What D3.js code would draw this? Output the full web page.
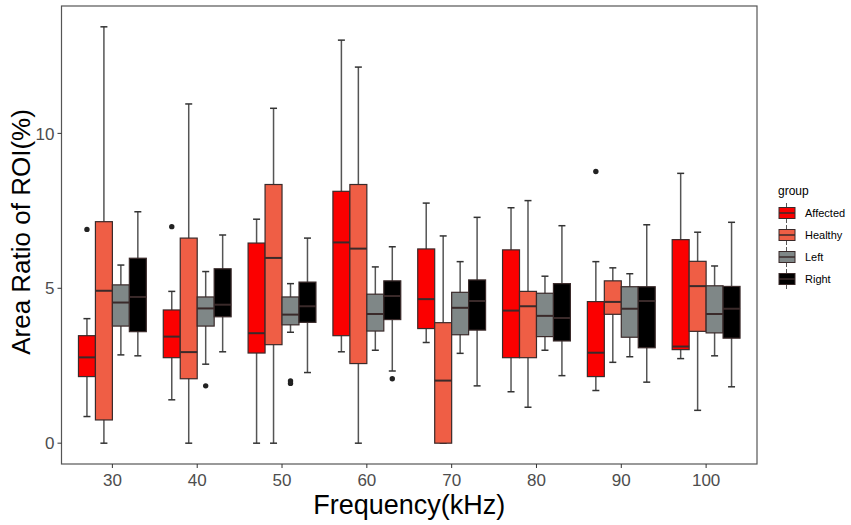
<!DOCTYPE html>
<html>
<head>
<meta charset="utf-8">
<script src="https://cdn.jsdelivr.net/npm/d3@7"></script>
<style>
  body { margin: 0; background: #fff; }
  text { font-family: Arial, "Liberation Sans", sans-serif; }
</style>
</head>
<body>
<svg id="chart" width="851" height="525"></svg>
<script>
// categories on x
const frequencies = ['30', '40', '50', '60', '70', '80', '90', '100'];
const groups = ['Affected', 'Healthy', 'Left', 'Right'];
const groupColors = ['#fb0000', '#ef5e45', '#7f8787', '#000000'];
const yTicks = [0, 5, 10];

// five-number summaries per frequency: [lower whisker, Q1, median, Q3, upper whisker]
const affected = [
  [0.86, 2.15, 2.77, 3.47, 4.02],
  [1.40, 2.76, 3.44, 4.30, 4.90],
  [0.00, 2.91, 3.55, 6.46, 7.23],
  [2.95, 3.47, 6.48, 8.13, 13.01],
  [3.25, 3.70, 4.65, 6.27, 7.75],
  [1.66, 2.76, 4.28, 6.24, 7.60],
  [1.70, 2.15, 2.92, 4.57, 5.86],
  [2.73, 3.02, 3.12, 6.57, 8.71]
];
const healthy = [
  [0.00, 0.75, 4.92, 7.15, 13.44],
  [0.00, 2.08, 2.94, 6.62, 10.95],
  [0.00, 3.18, 5.98, 8.35, 10.81],
  [0.00, 2.57, 6.28, 8.35, 12.14],
  [0.00, 0.00, 2.02, 3.89, 6.69],
  [1.16, 2.76, 4.42, 4.90, 7.83],
  [2.61, 4.16, 4.56, 5.24, 5.66],
  [1.06, 3.61, 5.07, 5.87, 6.81]
];
const left = [
  [2.85, 3.78, 4.54, 5.11, 5.75],
  [2.55, 3.78, 4.35, 4.72, 5.54],
  [3.58, 3.82, 4.15, 4.72, 5.15],
  [3.00, 3.62, 4.17, 4.81, 5.69],
  [2.90, 3.50, 4.37, 4.87, 5.86],
  [3.00, 3.44, 4.11, 4.84, 5.39],
  [2.79, 3.42, 4.34, 5.05, 5.47],
  [2.82, 3.56, 4.17, 5.08, 5.72]
];
const right = [
  [2.82, 3.60, 4.72, 5.97, 7.47],
  [2.95, 4.08, 4.47, 5.63, 6.72],
  [2.28, 3.90, 4.42, 5.20, 6.62],
  [2.33, 3.99, 4.75, 5.24, 6.34],
  [1.85, 3.65, 4.59, 5.27, 7.29],
  [2.18, 3.30, 4.04, 5.15, 7.02],
  [1.97, 3.08, 4.59, 5.05, 7.05],
  [1.82, 3.39, 4.34, 5.06, 7.13]
];
// outliers: [frequency, group, value]
const outliers = [
  ['30', 'Affected', 6.90],
  ['40', 'Affected', 6.99],
  ['40', 'Left', 1.85],
  ['50', 'Left', 2.01],
  ['50', 'Left', 1.93],
  ['60', 'Right', 2.08],
  ['90', 'Affected', 8.77]
];

const stats = [affected, healthy, left, right];

const svg = d3.select('#chart');
const panel = { left: 61.5, top: 6, right: 757, bottom: 464 };

// ggplot discrete expansion: 0.6 of a step each side
const step = (panel.right - panel.left) / (frequencies.length - 1 + 1.2);
const x = d3.scalePoint()
  .domain(frequencies)
  .range([panel.left + 0.6 * step, panel.right - 0.6 * step]);

const yMax = 13.44;
const y = d3.scaleLinear()
  .domain([-yMax * 0.05, yMax * 1.05])
  .range([panel.bottom, panel.top]);

const dodge = d3.scaleBand()
  .domain(groups)
  .range([-step * 0.4, step * 0.4]);

const boxW = dodge.bandwidth();
const capW = 7;

// boxes
const g = svg.append('g');
frequencies.forEach((f, i) => {
  groups.forEach((grp, j) => {
    const [lo, q1, med, q3, hi] = stats[j][i];
    const cx = x(f) + dodge(grp) + boxW / 2;
    const bg = g.append('g');
    // whiskers
    bg.append('line')
      .attr('x1', cx).attr('x2', cx)
      .attr('y1', y(hi)).attr('y2', y(lo))
      .attr('stroke', '#555').attr('stroke-width', 1.5);
    [lo, hi].forEach(v => {
      bg.append('line')
        .attr('x1', cx - capW / 2).attr('x2', cx + capW / 2)
        .attr('y1', y(v)).attr('y2', y(v))
        .attr('stroke', '#333').attr('stroke-width', 1.5);
    });
    bg.append('rect')
      .attr('x', cx - boxW / 2)
      .attr('y', y(q3))
      .attr('width', boxW)
      .attr('height', Math.max(0.5, y(q1) - y(q3)))
      .attr('fill', groupColors[j])
      .attr('stroke', '#3a2a2a')
      .attr('stroke-width', 1.2);
    bg.append('line')
      .attr('x1', cx - boxW / 2).attr('x2', cx + boxW / 2)
      .attr('y1', y(med)).attr('y2', y(med))
      .attr('stroke', '#3a2a2a').attr('stroke-width', 2);
  });
});

g.selectAll('.outlier')
  .data(outliers)
  .enter()
  .append('circle')
  .attr('class', 'outlier')
  .attr('cx', d => x(d[0]) + dodge(d[1]) + boxW / 2)
  .attr('cy', d => y(d[2]))
  .attr('r', 2.7)
  .attr('fill', '#222');

// panel border
svg.append('rect')
  .attr('x', panel.left).attr('y', panel.top)
  .attr('width', panel.right - panel.left)
  .attr('height', panel.bottom - panel.top)
  .attr('fill', 'none')
  .attr('stroke', '#555')
  .attr('stroke-width', 1.2);

// axes
const xAxis = svg.append('g');
frequencies.forEach(f => {
  xAxis.append('line')
    .attr('x1', x(f)).attr('x2', x(f))
    .attr('y1', panel.bottom).attr('y2', panel.bottom + 4)
    .attr('stroke', '#333');
  xAxis.append('text')
    .attr('x', x(f)).attr('y', panel.bottom + 22)
    .attr('text-anchor', 'middle')
    .attr('fill', '#4d4d4d')
    .style('font-size', '17px')
    .text(f);
});

const yAxis = svg.append('g');
yTicks.forEach(t => {
  yAxis.append('line')
    .attr('x1', panel.left - 4).attr('x2', panel.left)
    .attr('y1', y(t)).attr('y2', y(t))
    .attr('stroke', '#333');
  yAxis.append('text')
    .attr('x', panel.left - 7).attr('y', y(t))
    .attr('dy', '0.36em')
    .attr('text-anchor', 'end')
    .attr('fill', '#4d4d4d')
    .style('font-size', '17px')
    .text(t);
});

svg.append('text')
  .attr('x', (panel.left + panel.right) / 2)
  .attr('y', 514)
  .attr('text-anchor', 'middle')
  .style('font-size', '27px')
  .text('Frequency(kHz)');

svg.append('text')
  .attr('transform', 'translate(30, 232) rotate(-90)')
  .attr('text-anchor', 'middle')
  .style('font-size', '26px')
  .text('Area Ratio of ROI(%)');

// legend
const legend = svg.append('g').attr('transform', 'translate(778, 0)');
legend.append('text')
  .attr('x', 0).attr('y', 195)
  .style('font-size', '12px')
  .text('group');
groups.forEach((grp, j) => {
  const ky = 203 + j * 22;
  const k = legend.append('g');
  k.append('line')
    .attr('x1', 8.5).attr('x2', 8.5)
    .attr('y1', ky).attr('y2', ky + 20)
    .attr('stroke', '#555');
  k.append('rect')
    .attr('x', 1).attr('y', ky + 4.5)
    .attr('width', 16).attr('height', 11)
    .attr('fill', groupColors[j])
    .attr('stroke', '#3a2a2a');
  k.append('line')
    .attr('x1', 1).attr('x2', 17)
    .attr('y1', ky + 10).attr('y2', ky + 10)
    .attr('stroke', '#3a2a2a').attr('stroke-width', 1.5);
  legend.append('text')
    .attr('x', 27).attr('y', ky + 10)
    .attr('dy', '0.35em')
    .style('font-size', '11px')
    .text(grp);
});
</script>
</body>
</html>
